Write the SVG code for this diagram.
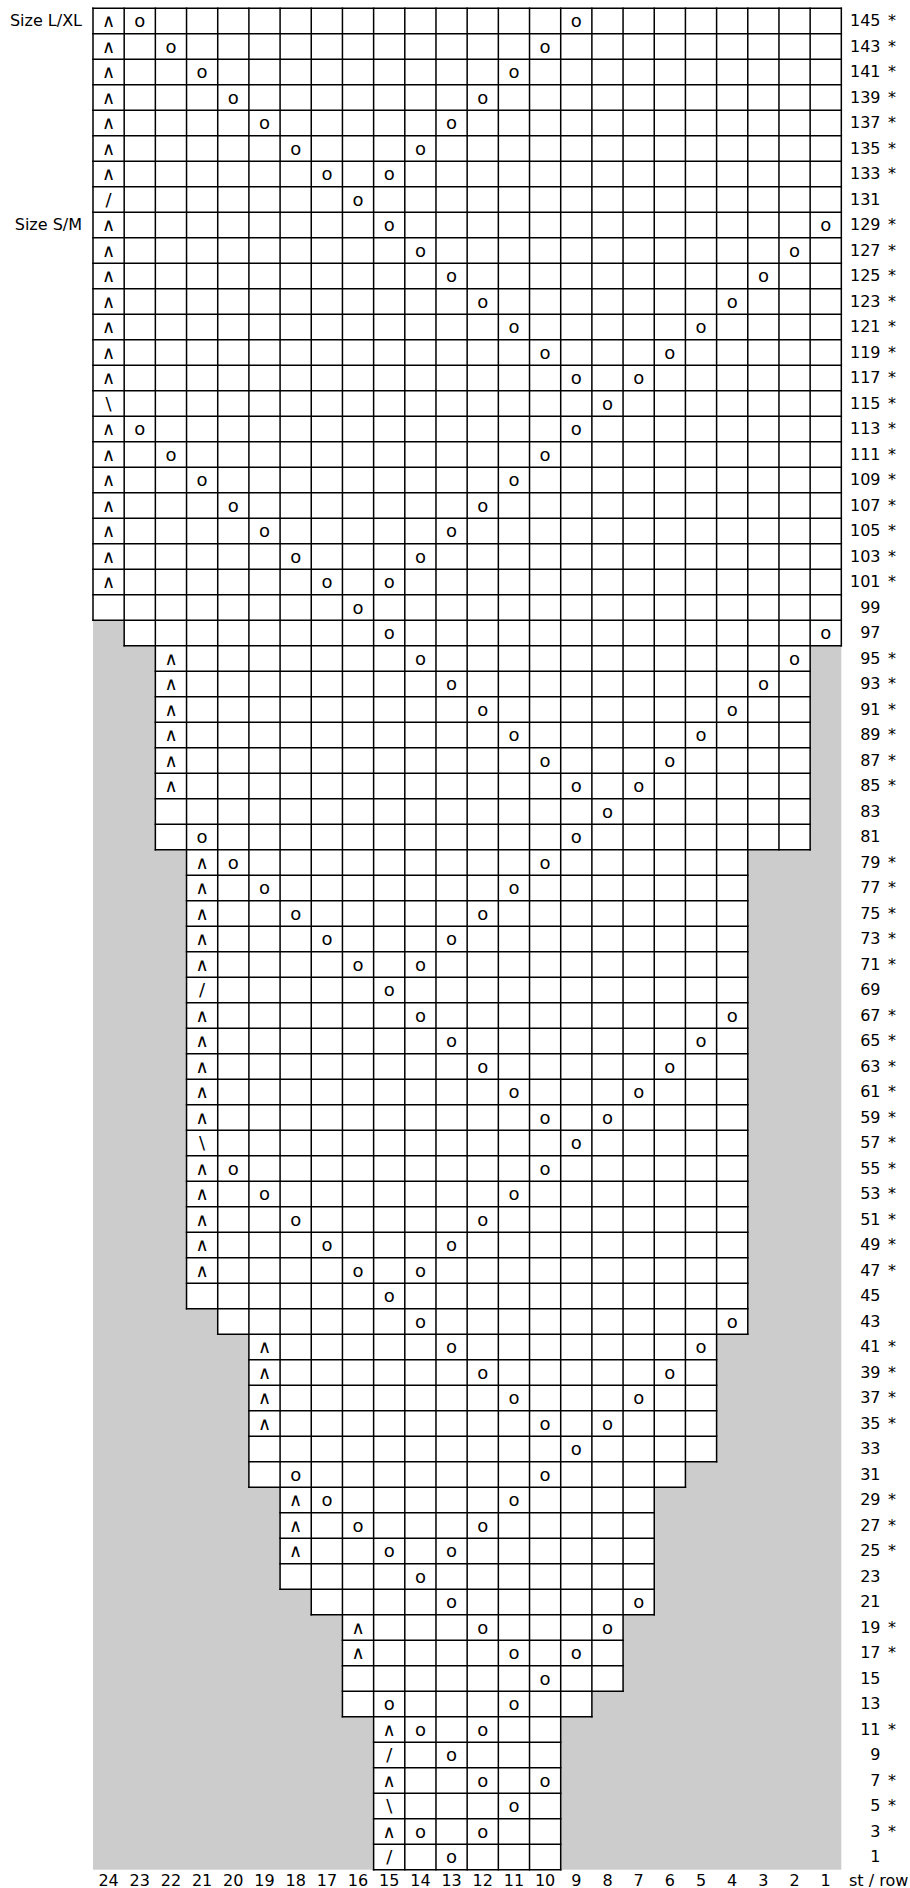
<svg xmlns="http://www.w3.org/2000/svg" width="910" height="1888" viewBox="0 0 910 1888">
<style>
.g{fill:none;stroke:#000;stroke-width:1.5;stroke-linecap:square}
.s{font-family:"DejaVu Sans",Verdana,sans-serif;font-size:18px;text-anchor:middle;fill:#000}
.n{font-family:"DejaVu Sans",Verdana,sans-serif;font-size:16px;text-anchor:end;fill:#000}
.k{font-family:"DejaVu Sans",Verdana,sans-serif;font-size:16px;fill:#000}
.z{font-family:"DejaVu Sans",Verdana,sans-serif;font-size:16px;text-anchor:end;fill:#000}
.x{font-family:"DejaVu Sans",Verdana,sans-serif;font-size:16px;text-anchor:middle;fill:#000}
</style>
<rect id="background" x="0" y="0" width="910" height="1888" fill="#fff"/>
<rect id="gray" x="93" y="620.2" width="748.32" height="1249.5" fill="#cccccc"/>
<polygon id="chart" fill="#fff" points="93,8.2 841.32,8.2 841.32,645.7 810.14,645.7 810.14,849.7 747.78,849.7 747.78,1334.2 716.6,1334.2 716.6,1461.7 685.42,1461.7 685.42,1487.2 654.24,1487.2 654.24,1614.7 623.06,1614.7 623.06,1691.2 591.88,1691.2 591.88,1716.7 560.7,1716.7 560.7,1869.7 373.62,1869.7 373.62,1716.7 342.44,1716.7 342.44,1614.7 311.26,1614.7 311.26,1589.2 280.08,1589.2 280.08,1487.2 248.9,1487.2 248.9,1334.2 217.72,1334.2 217.72,1308.7 186.54,1308.7 186.54,849.7 155.36,849.7 155.36,645.7 124.18,645.7 124.18,620.2 93,620.2"/>
<g id="gridlines" class="g">
<path d="M93 8.2V620.2M124.18 8.2V645.7M155.36 8.2V849.7M186.54 8.2V1308.7M217.72 8.2V1334.2M248.9 8.2V1487.2M280.08 8.2V1589.2M311.26 8.2V1614.7M342.44 8.2V1716.7M373.62 8.2V1869.7M404.8 8.2V1869.7M435.98 8.2V1869.7M467.16 8.2V1869.7M498.34 8.2V1869.7M529.52 8.2V1869.7M560.7 8.2V1869.7M591.88 8.2V1716.7M623.06 8.2V1691.2M654.24 8.2V1614.7M685.42 8.2V1487.2M716.6 8.2V1461.7M747.78 8.2V1334.2M778.96 8.2V849.7M810.14 8.2V849.7M841.32 8.2V645.7"/>
<path d="M93 8.2H841.32M93 33.7H841.32M93 59.2H841.32M93 84.7H841.32M93 110.2H841.32M93 135.7H841.32M93 161.2H841.32M93 186.7H841.32M93 212.2H841.32M93 237.7H841.32M93 263.2H841.32M93 288.7H841.32M93 314.2H841.32M93 339.7H841.32M93 365.2H841.32M93 390.7H841.32M93 416.2H841.32M93 441.7H841.32M93 467.2H841.32M93 492.7H841.32M93 518.2H841.32M93 543.7H841.32M93 569.2H841.32M93 594.7H841.32M93 620.2H841.32M124.18 645.7H841.32M155.36 671.2H810.14M155.36 696.7H810.14M155.36 722.2H810.14M155.36 747.7H810.14M155.36 773.2H810.14M155.36 798.7H810.14M155.36 824.2H810.14M155.36 849.7H810.14M186.54 875.2H747.78M186.54 900.7H747.78M186.54 926.2H747.78M186.54 951.7H747.78M186.54 977.2H747.78M186.54 1002.7H747.78M186.54 1028.2H747.78M186.54 1053.7H747.78M186.54 1079.2H747.78M186.54 1104.7H747.78M186.54 1130.2H747.78M186.54 1155.7H747.78M186.54 1181.2H747.78M186.54 1206.7H747.78M186.54 1232.2H747.78M186.54 1257.7H747.78M186.54 1283.2H747.78M186.54 1308.7H747.78M217.72 1334.2H747.78M248.9 1359.7H716.6M248.9 1385.2H716.6M248.9 1410.7H716.6M248.9 1436.2H716.6M248.9 1461.7H716.6M248.9 1487.2H685.42M280.08 1512.7H654.24M280.08 1538.2H654.24M280.08 1563.7H654.24M280.08 1589.2H654.24M311.26 1614.7H654.24M342.44 1640.2H623.06M342.44 1665.7H623.06M342.44 1691.2H623.06M342.44 1716.7H591.88M373.62 1742.2H560.7M373.62 1767.7H560.7M373.62 1793.2H560.7M373.62 1818.7H560.7M373.62 1844.2H560.7M373.62 1869.7H560.7"/>
</g>
<g id="size-labels">
<text class="z" x="82" y="26.2">Size L/XL</text>
<text class="z" x="82" y="230.2">Size S/M</text>
</g>
<g id="r145"><text class="s" x="108.6" y="27.2">∧</text><text class="s" x="139.8" y="27.2">o</text><text class="s" x="576.3" y="27.2">o</text><text class="n" x="880.5" y="26.2">145</text><text class="k" x="888" y="26.2">*</text></g>
<g id="r143"><text class="s" x="108.6" y="52.7">∧</text><text class="s" x="171" y="52.7">o</text><text class="s" x="545.1" y="52.7">o</text><text class="n" x="880.5" y="51.7">143</text><text class="k" x="888" y="51.7">*</text></g>
<g id="r141"><text class="s" x="108.6" y="78.2">∧</text><text class="s" x="202.1" y="78.2">o</text><text class="s" x="513.9" y="78.2">o</text><text class="n" x="880.5" y="77.2">141</text><text class="k" x="888" y="77.2">*</text></g>
<g id="r139"><text class="s" x="108.6" y="103.7">∧</text><text class="s" x="233.3" y="103.7">o</text><text class="s" x="482.8" y="103.7">o</text><text class="n" x="880.5" y="102.7">139</text><text class="k" x="888" y="102.7">*</text></g>
<g id="r137"><text class="s" x="108.6" y="129.2">∧</text><text class="s" x="264.5" y="129.2">o</text><text class="s" x="451.6" y="129.2">o</text><text class="n" x="880.5" y="128.2">137</text><text class="k" x="888" y="128.2">*</text></g>
<g id="r135"><text class="s" x="108.6" y="154.7">∧</text><text class="s" x="295.7" y="154.7">o</text><text class="s" x="420.4" y="154.7">o</text><text class="n" x="880.5" y="153.7">135</text><text class="k" x="888" y="153.7">*</text></g>
<g id="r133"><text class="s" x="108.6" y="180.2">∧</text><text class="s" x="326.9" y="180.2">o</text><text class="s" x="389.2" y="180.2">o</text><text class="n" x="880.5" y="179.2">133</text><text class="k" x="888" y="179.2">*</text></g>
<g id="r131"><text class="s" x="108.6" y="205.7">/</text><text class="s" x="358" y="205.7">o</text><text class="n" x="880.5" y="204.7">131</text></g>
<g id="r129"><text class="s" x="108.6" y="231.2">∧</text><text class="s" x="389.2" y="231.2">o</text><text class="s" x="825.7" y="231.2">o</text><text class="n" x="880.5" y="230.2">129</text><text class="k" x="888" y="230.2">*</text></g>
<g id="r127"><text class="s" x="108.6" y="256.7">∧</text><text class="s" x="420.4" y="256.7">o</text><text class="s" x="794.6" y="256.7">o</text><text class="n" x="880.5" y="255.7">127</text><text class="k" x="888" y="255.7">*</text></g>
<g id="r125"><text class="s" x="108.6" y="282.2">∧</text><text class="s" x="451.6" y="282.2">o</text><text class="s" x="763.4" y="282.2">o</text><text class="n" x="880.5" y="281.2">125</text><text class="k" x="888" y="281.2">*</text></g>
<g id="r123"><text class="s" x="108.6" y="307.7">∧</text><text class="s" x="482.8" y="307.7">o</text><text class="s" x="732.2" y="307.7">o</text><text class="n" x="880.5" y="306.7">123</text><text class="k" x="888" y="306.7">*</text></g>
<g id="r121"><text class="s" x="108.6" y="333.2">∧</text><text class="s" x="513.9" y="333.2">o</text><text class="s" x="701" y="333.2">o</text><text class="n" x="880.5" y="332.2">121</text><text class="k" x="888" y="332.2">*</text></g>
<g id="r119"><text class="s" x="108.6" y="358.7">∧</text><text class="s" x="545.1" y="358.7">o</text><text class="s" x="669.8" y="358.7">o</text><text class="n" x="880.5" y="357.7">119</text><text class="k" x="888" y="357.7">*</text></g>
<g id="r117"><text class="s" x="108.6" y="384.2">∧</text><text class="s" x="576.3" y="384.2">o</text><text class="s" x="638.7" y="384.2">o</text><text class="n" x="880.5" y="383.2">117</text><text class="k" x="888" y="383.2">*</text></g>
<g id="r115"><text class="s" x="108.6" y="409.7">\</text><text class="s" x="607.5" y="409.7">o</text><text class="n" x="880.5" y="408.7">115</text><text class="k" x="888" y="408.7">*</text></g>
<g id="r113"><text class="s" x="108.6" y="435.2">∧</text><text class="s" x="139.8" y="435.2">o</text><text class="s" x="576.3" y="435.2">o</text><text class="n" x="880.5" y="434.2">113</text><text class="k" x="888" y="434.2">*</text></g>
<g id="r111"><text class="s" x="108.6" y="460.7">∧</text><text class="s" x="171" y="460.7">o</text><text class="s" x="545.1" y="460.7">o</text><text class="n" x="880.5" y="459.7">111</text><text class="k" x="888" y="459.7">*</text></g>
<g id="r109"><text class="s" x="108.6" y="486.2">∧</text><text class="s" x="202.1" y="486.2">o</text><text class="s" x="513.9" y="486.2">o</text><text class="n" x="880.5" y="485.2">109</text><text class="k" x="888" y="485.2">*</text></g>
<g id="r107"><text class="s" x="108.6" y="511.7">∧</text><text class="s" x="233.3" y="511.7">o</text><text class="s" x="482.8" y="511.7">o</text><text class="n" x="880.5" y="510.7">107</text><text class="k" x="888" y="510.7">*</text></g>
<g id="r105"><text class="s" x="108.6" y="537.2">∧</text><text class="s" x="264.5" y="537.2">o</text><text class="s" x="451.6" y="537.2">o</text><text class="n" x="880.5" y="536.2">105</text><text class="k" x="888" y="536.2">*</text></g>
<g id="r103"><text class="s" x="108.6" y="562.7">∧</text><text class="s" x="295.7" y="562.7">o</text><text class="s" x="420.4" y="562.7">o</text><text class="n" x="880.5" y="561.7">103</text><text class="k" x="888" y="561.7">*</text></g>
<g id="r101"><text class="s" x="108.6" y="588.2">∧</text><text class="s" x="326.9" y="588.2">o</text><text class="s" x="389.2" y="588.2">o</text><text class="n" x="880.5" y="587.2">101</text><text class="k" x="888" y="587.2">*</text></g>
<g id="r99"><text class="s" x="358" y="613.7">o</text><text class="n" x="880.5" y="612.7">99</text></g>
<g id="r97"><text class="s" x="389.2" y="639.2">o</text><text class="s" x="825.7" y="639.2">o</text><text class="n" x="880.5" y="638.2">97</text></g>
<g id="r95"><text class="s" x="171" y="664.7">∧</text><text class="s" x="420.4" y="664.7">o</text><text class="s" x="794.6" y="664.7">o</text><text class="n" x="880.5" y="663.7">95</text><text class="k" x="888" y="663.7">*</text></g>
<g id="r93"><text class="s" x="171" y="690.2">∧</text><text class="s" x="451.6" y="690.2">o</text><text class="s" x="763.4" y="690.2">o</text><text class="n" x="880.5" y="689.2">93</text><text class="k" x="888" y="689.2">*</text></g>
<g id="r91"><text class="s" x="171" y="715.7">∧</text><text class="s" x="482.8" y="715.7">o</text><text class="s" x="732.2" y="715.7">o</text><text class="n" x="880.5" y="714.7">91</text><text class="k" x="888" y="714.7">*</text></g>
<g id="r89"><text class="s" x="171" y="741.2">∧</text><text class="s" x="513.9" y="741.2">o</text><text class="s" x="701" y="741.2">o</text><text class="n" x="880.5" y="740.2">89</text><text class="k" x="888" y="740.2">*</text></g>
<g id="r87"><text class="s" x="171" y="766.7">∧</text><text class="s" x="545.1" y="766.7">o</text><text class="s" x="669.8" y="766.7">o</text><text class="n" x="880.5" y="765.7">87</text><text class="k" x="888" y="765.7">*</text></g>
<g id="r85"><text class="s" x="171" y="792.2">∧</text><text class="s" x="576.3" y="792.2">o</text><text class="s" x="638.7" y="792.2">o</text><text class="n" x="880.5" y="791.2">85</text><text class="k" x="888" y="791.2">*</text></g>
<g id="r83"><text class="s" x="607.5" y="817.7">o</text><text class="n" x="880.5" y="816.7">83</text></g>
<g id="r81"><text class="s" x="202.1" y="843.2">o</text><text class="s" x="576.3" y="843.2">o</text><text class="n" x="880.5" y="842.2">81</text></g>
<g id="r79"><text class="s" x="202.1" y="868.7">∧</text><text class="s" x="233.3" y="868.7">o</text><text class="s" x="545.1" y="868.7">o</text><text class="n" x="880.5" y="867.7">79</text><text class="k" x="888" y="867.7">*</text></g>
<g id="r77"><text class="s" x="202.1" y="894.2">∧</text><text class="s" x="264.5" y="894.2">o</text><text class="s" x="513.9" y="894.2">o</text><text class="n" x="880.5" y="893.2">77</text><text class="k" x="888" y="893.2">*</text></g>
<g id="r75"><text class="s" x="202.1" y="919.7">∧</text><text class="s" x="295.7" y="919.7">o</text><text class="s" x="482.8" y="919.7">o</text><text class="n" x="880.5" y="918.7">75</text><text class="k" x="888" y="918.7">*</text></g>
<g id="r73"><text class="s" x="202.1" y="945.2">∧</text><text class="s" x="326.9" y="945.2">o</text><text class="s" x="451.6" y="945.2">o</text><text class="n" x="880.5" y="944.2">73</text><text class="k" x="888" y="944.2">*</text></g>
<g id="r71"><text class="s" x="202.1" y="970.7">∧</text><text class="s" x="358" y="970.7">o</text><text class="s" x="420.4" y="970.7">o</text><text class="n" x="880.5" y="969.7">71</text><text class="k" x="888" y="969.7">*</text></g>
<g id="r69"><text class="s" x="202.1" y="996.2">/</text><text class="s" x="389.2" y="996.2">o</text><text class="n" x="880.5" y="995.2">69</text></g>
<g id="r67"><text class="s" x="202.1" y="1021.7">∧</text><text class="s" x="420.4" y="1021.7">o</text><text class="s" x="732.2" y="1021.7">o</text><text class="n" x="880.5" y="1020.7">67</text><text class="k" x="888" y="1020.7">*</text></g>
<g id="r65"><text class="s" x="202.1" y="1047.2">∧</text><text class="s" x="451.6" y="1047.2">o</text><text class="s" x="701" y="1047.2">o</text><text class="n" x="880.5" y="1046.2">65</text><text class="k" x="888" y="1046.2">*</text></g>
<g id="r63"><text class="s" x="202.1" y="1072.7">∧</text><text class="s" x="482.8" y="1072.7">o</text><text class="s" x="669.8" y="1072.7">o</text><text class="n" x="880.5" y="1071.7">63</text><text class="k" x="888" y="1071.7">*</text></g>
<g id="r61"><text class="s" x="202.1" y="1098.2">∧</text><text class="s" x="513.9" y="1098.2">o</text><text class="s" x="638.7" y="1098.2">o</text><text class="n" x="880.5" y="1097.2">61</text><text class="k" x="888" y="1097.2">*</text></g>
<g id="r59"><text class="s" x="202.1" y="1123.7">∧</text><text class="s" x="545.1" y="1123.7">o</text><text class="s" x="607.5" y="1123.7">o</text><text class="n" x="880.5" y="1122.7">59</text><text class="k" x="888" y="1122.7">*</text></g>
<g id="r57"><text class="s" x="202.1" y="1149.2">\</text><text class="s" x="576.3" y="1149.2">o</text><text class="n" x="880.5" y="1148.2">57</text><text class="k" x="888" y="1148.2">*</text></g>
<g id="r55"><text class="s" x="202.1" y="1174.7">∧</text><text class="s" x="233.3" y="1174.7">o</text><text class="s" x="545.1" y="1174.7">o</text><text class="n" x="880.5" y="1173.7">55</text><text class="k" x="888" y="1173.7">*</text></g>
<g id="r53"><text class="s" x="202.1" y="1200.2">∧</text><text class="s" x="264.5" y="1200.2">o</text><text class="s" x="513.9" y="1200.2">o</text><text class="n" x="880.5" y="1199.2">53</text><text class="k" x="888" y="1199.2">*</text></g>
<g id="r51"><text class="s" x="202.1" y="1225.7">∧</text><text class="s" x="295.7" y="1225.7">o</text><text class="s" x="482.8" y="1225.7">o</text><text class="n" x="880.5" y="1224.7">51</text><text class="k" x="888" y="1224.7">*</text></g>
<g id="r49"><text class="s" x="202.1" y="1251.2">∧</text><text class="s" x="326.9" y="1251.2">o</text><text class="s" x="451.6" y="1251.2">o</text><text class="n" x="880.5" y="1250.2">49</text><text class="k" x="888" y="1250.2">*</text></g>
<g id="r47"><text class="s" x="202.1" y="1276.7">∧</text><text class="s" x="358" y="1276.7">o</text><text class="s" x="420.4" y="1276.7">o</text><text class="n" x="880.5" y="1275.7">47</text><text class="k" x="888" y="1275.7">*</text></g>
<g id="r45"><text class="s" x="389.2" y="1302.2">o</text><text class="n" x="880.5" y="1301.2">45</text></g>
<g id="r43"><text class="s" x="420.4" y="1327.7">o</text><text class="s" x="732.2" y="1327.7">o</text><text class="n" x="880.5" y="1326.7">43</text></g>
<g id="r41"><text class="s" x="264.5" y="1353.2">∧</text><text class="s" x="451.6" y="1353.2">o</text><text class="s" x="701" y="1353.2">o</text><text class="n" x="880.5" y="1352.2">41</text><text class="k" x="888" y="1352.2">*</text></g>
<g id="r39"><text class="s" x="264.5" y="1378.7">∧</text><text class="s" x="482.8" y="1378.7">o</text><text class="s" x="669.8" y="1378.7">o</text><text class="n" x="880.5" y="1377.7">39</text><text class="k" x="888" y="1377.7">*</text></g>
<g id="r37"><text class="s" x="264.5" y="1404.2">∧</text><text class="s" x="513.9" y="1404.2">o</text><text class="s" x="638.7" y="1404.2">o</text><text class="n" x="880.5" y="1403.2">37</text><text class="k" x="888" y="1403.2">*</text></g>
<g id="r35"><text class="s" x="264.5" y="1429.7">∧</text><text class="s" x="545.1" y="1429.7">o</text><text class="s" x="607.5" y="1429.7">o</text><text class="n" x="880.5" y="1428.7">35</text><text class="k" x="888" y="1428.7">*</text></g>
<g id="r33"><text class="s" x="576.3" y="1455.2">o</text><text class="n" x="880.5" y="1454.2">33</text></g>
<g id="r31"><text class="s" x="295.7" y="1480.7">o</text><text class="s" x="545.1" y="1480.7">o</text><text class="n" x="880.5" y="1479.7">31</text></g>
<g id="r29"><text class="s" x="295.7" y="1506.2">∧</text><text class="s" x="326.9" y="1506.2">o</text><text class="s" x="513.9" y="1506.2">o</text><text class="n" x="880.5" y="1505.2">29</text><text class="k" x="888" y="1505.2">*</text></g>
<g id="r27"><text class="s" x="295.7" y="1531.7">∧</text><text class="s" x="358" y="1531.7">o</text><text class="s" x="482.8" y="1531.7">o</text><text class="n" x="880.5" y="1530.7">27</text><text class="k" x="888" y="1530.7">*</text></g>
<g id="r25"><text class="s" x="295.7" y="1557.2">∧</text><text class="s" x="389.2" y="1557.2">o</text><text class="s" x="451.6" y="1557.2">o</text><text class="n" x="880.5" y="1556.2">25</text><text class="k" x="888" y="1556.2">*</text></g>
<g id="r23"><text class="s" x="420.4" y="1582.7">o</text><text class="n" x="880.5" y="1581.7">23</text></g>
<g id="r21"><text class="s" x="451.6" y="1608.2">o</text><text class="s" x="638.7" y="1608.2">o</text><text class="n" x="880.5" y="1607.2">21</text></g>
<g id="r19"><text class="s" x="358" y="1633.7">∧</text><text class="s" x="482.8" y="1633.7">o</text><text class="s" x="607.5" y="1633.7">o</text><text class="n" x="880.5" y="1632.7">19</text><text class="k" x="888" y="1632.7">*</text></g>
<g id="r17"><text class="s" x="358" y="1659.2">∧</text><text class="s" x="513.9" y="1659.2">o</text><text class="s" x="576.3" y="1659.2">o</text><text class="n" x="880.5" y="1658.2">17</text><text class="k" x="888" y="1658.2">*</text></g>
<g id="r15"><text class="s" x="545.1" y="1684.7">o</text><text class="n" x="880.5" y="1683.7">15</text></g>
<g id="r13"><text class="s" x="389.2" y="1710.2">o</text><text class="s" x="513.9" y="1710.2">o</text><text class="n" x="880.5" y="1709.2">13</text></g>
<g id="r11"><text class="s" x="389.2" y="1735.7">∧</text><text class="s" x="420.4" y="1735.7">o</text><text class="s" x="482.8" y="1735.7">o</text><text class="n" x="880.5" y="1734.7">11</text><text class="k" x="888" y="1734.7">*</text></g>
<g id="r9"><text class="s" x="389.2" y="1761.2">/</text><text class="s" x="451.6" y="1761.2">o</text><text class="n" x="880.5" y="1760.2">9</text></g>
<g id="r7"><text class="s" x="389.2" y="1786.7">∧</text><text class="s" x="482.8" y="1786.7">o</text><text class="s" x="545.1" y="1786.7">o</text><text class="n" x="880.5" y="1785.7">7</text><text class="k" x="888" y="1785.7">*</text></g>
<g id="r5"><text class="s" x="389.2" y="1812.2">\</text><text class="s" x="513.9" y="1812.2">o</text><text class="n" x="880.5" y="1811.2">5</text><text class="k" x="888" y="1811.2">*</text></g>
<g id="r3"><text class="s" x="389.2" y="1837.7">∧</text><text class="s" x="420.4" y="1837.7">o</text><text class="s" x="482.8" y="1837.7">o</text><text class="n" x="880.5" y="1836.7">3</text><text class="k" x="888" y="1836.7">*</text></g>
<g id="r1"><text class="s" x="389.2" y="1863.2">/</text><text class="s" x="451.6" y="1863.2">o</text><text class="n" x="880.5" y="1862.2">1</text></g>
<g id="stitch-axis">
<text class="x" x="108.6" y="1886">24</text><text class="x" x="139.8" y="1886">23</text><text class="x" x="171" y="1886">22</text><text class="x" x="202.1" y="1886">21</text><text class="x" x="233.3" y="1886">20</text><text class="x" x="264.5" y="1886">19</text><text class="x" x="295.7" y="1886">18</text><text class="x" x="326.9" y="1886">17</text><text class="x" x="358" y="1886">16</text><text class="x" x="389.2" y="1886">15</text><text class="x" x="420.4" y="1886">14</text><text class="x" x="451.6" y="1886">13</text><text class="x" x="482.8" y="1886">12</text><text class="x" x="513.9" y="1886">11</text><text class="x" x="545.1" y="1886">10</text><text class="x" x="576.3" y="1886">9</text><text class="x" x="607.5" y="1886">8</text><text class="x" x="638.7" y="1886">7</text><text class="x" x="669.8" y="1886">6</text><text class="x" x="701" y="1886">5</text><text class="x" x="732.2" y="1886">4</text><text class="x" x="763.4" y="1886">3</text><text class="x" x="794.6" y="1886">2</text><text class="x" x="825.7" y="1886">1</text>
<text class="k" x="849" y="1886">st / row</text>
</g>
</svg>
